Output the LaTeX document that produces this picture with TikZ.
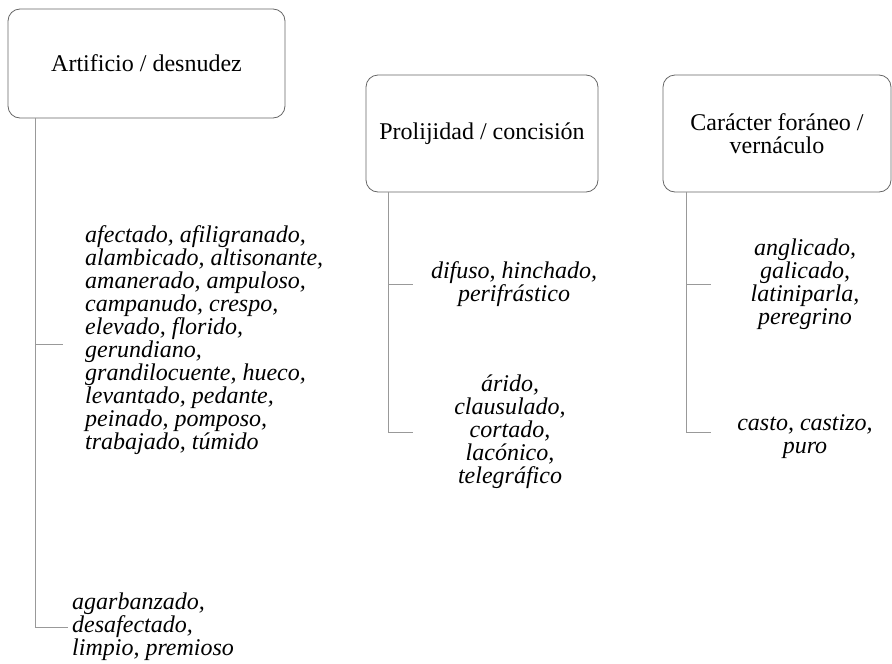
\documentclass[tikz,border=0pt]{standalone}
\usepackage{fontspec}
\setmainfont{Liberation Serif}
\usetikzlibrary{positioning}
\tikzset{
  catbox/.style={draw=black!60, line width=0.8pt, rounded corners=12pt, align=center,
    font=\fontsize{24}{23}\selectfont},
  terms/.style={inner sep=0pt, font=\fontsize{24}{23}\selectfont\itshape},
  conn/.style={draw=black!40, line width=1pt}
}
\begin{document}
\begin{tikzpicture}[x=1pt,y=-1pt]
\useasboundingbox (0,0) rectangle (892,664);

% the three category boxes
\node[catbox, minimum width=277pt, minimum height=109pt] (art) at (146.5,63.5) {Artificio / desnudez};
\node[catbox, minimum width=232pt, minimum height=117pt] (pro) at (482,133.5) {Prolijidad / concisión};
\node[catbox, minimum width=228pt, minimum height=117pt] (car) at (777,133.5) {Carácter foráneo /\\vernáculo};

% adjectives
\node[terms, anchor=west, align=left] (art1) at (85,340) {afectado, afiligranado,\\alambicado, altisonante,\\amanerado, ampuloso,\\campanudo, crespo,\\elevado, florido,\\gerundiano,\\grandilocuente, hueco,\\levantado, pedante,\\peinado, pomposo,\\trabajado, túmido};
\node[terms, anchor=west, align=left] (art2) at (72,627) {agarbanzado,\\desafectado,\\limpio, premioso};
\node[terms, align=center] (pro1) at (514,284) {difuso, hinchado,\\perifrástico};
\node[terms, align=center] (pro2) at (510,432) {árido,\\clausulado,\\cortado,\\lacónico,\\telegráfico};
\node[terms, align=center] (car1) at (805,284) {anglicado,\\galicado,\\latiniparla,\\peregrino};
\node[terms, align=center] (car2) at (805,437) {casto, castizo,\\puro};

% branch ends
\coordinate (a1) at (63,344);
\coordinate (a2) at (68,627);
\coordinate (p1) at (413,284);
\coordinate (p2) at (413,432);
\coordinate (c1) at (711,284);
\coordinate (c2) at (711,432);

\draw[conn] ([xshift=28pt]art.south west) |- (a2);
\draw[conn] ([xshift=28pt]art.south west |- a1) -- (a1);
\draw[conn] ([xshift=23pt]pro.south west) |- (p2);
\draw[conn] ([xshift=23pt]pro.south west |- p1) -- (p1);
\draw[conn] ([xshift=24pt]car.south west) |- (c2);
\draw[conn] ([xshift=24pt]car.south west |- c1) -- (c1);
\end{tikzpicture}
\end{document}
